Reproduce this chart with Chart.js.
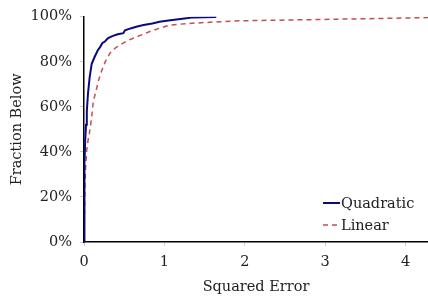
<!DOCTYPE html>
<html>
<head>
<meta charset="utf-8">
<script src="https://cdn.jsdelivr.net/npm/chart.js@4.4.0/dist/chart.umd.min.js"></script>
<style>
  html, body { margin: 0; padding: 0; background: #fff; }
  #wrap { width: 428px; height: 299px; }
</style>
</head>
<body>
<div id="wrap"><canvas id="chart" width="428" height="299"></canvas></div>
<script>
// (squared error vs. percent below)
const quadX = [0, 0.003, 0.008, 0.015, 0.025, 0.035, 0.05, 0.07, 0.095, 0.13, 0.17, 0.2, 0.227, 0.26, 0.3, 0.36, 0.42, 0.49, 0.51, 0.58, 0.65, 0.74, 0.85, 0.94, 1.05, 1.15, 1.25, 1.36, 1.5, 1.646];
const quadY = [0, 20, 35, 45, 52, 58, 66, 73, 79, 82, 85, 86.5, 88.2, 89, 90.5, 91.5, 92.2, 92.7, 94, 94.8, 95.5, 96.3, 97, 97.8, 98.3, 98.8, 99.2, 99.7, 99.8, 99.9];
const linX = [0, 0.005, 0.012, 0.02, 0.033, 0.05, 0.066, 0.095, 0.116, 0.15, 0.178, 0.22, 0.27, 0.323, 0.38, 0.447, 0.55, 0.65, 0.82, 0.95, 1.067, 1.3, 1.6, 1.94, 2.5, 3.0, 3.5, 4.0, 4.28];
const linY = [0, 12, 26, 33, 40.5, 45, 48, 55.2, 62.6, 67, 71.4, 76, 80.5, 83.8, 85.8, 87.5, 89.5, 91, 93.4, 95, 96.3, 97, 97.6, 98.2, 98.5, 98.8, 99.1, 99.4, 99.6];
const xTicks = [0, 1, 2, 3, 4];
const yTicks = [0, 20, 40, 60, 80, 100];

const FONT = "'DejaVu Serif', serif";
const SIZE = 14.5;
const pts = (xs, ys) => xs.map((x, i) => ({x: x, y: ys[i]}));

// legend drawn inside the plot, bottom right
const innerLegend = {
  id: 'innerLegend',
  afterDraw(chart) {
    const ctx = chart.ctx;
    const x0 = 323, rows = [203, 225];
    ctx.save();
    ctx.font = SIZE + 'px ' + FONT;
    ctx.textBaseline = 'middle';
    chart.data.datasets.forEach((ds, i) => {
      const y = rows[i];
      ctx.strokeStyle = ds.borderColor;
      ctx.lineWidth = ds.borderWidth;
      ctx.setLineDash(ds.borderDash || []);
      ctx.beginPath();
      ctx.moveTo(x0, y);
      ctx.lineTo(x0 + 17, y);
      ctx.stroke();
      ctx.setLineDash([]);
      ctx.fillStyle = '#222';
      ctx.fillText(ds.label, x0 + 18, y + 1);
    });
    ctx.restore();
  }
};

new Chart(document.getElementById('chart'), {
  type: 'line',
  data: {
    datasets: [
      {
        label: 'Quadratic',
        data: pts(quadX, quadY),
        borderColor: '#0a0a80',
        borderWidth: 2,
        pointRadius: 0,
        tension: 0
      },
      {
        label: 'Linear',
        data: pts(linX, linY),
        borderColor: '#c0504d',
        borderWidth: 1.5,
        borderDash: [5, 4],
        pointRadius: 0,
        tension: 0
      }
    ]
  },
  options: {
    responsive: false,
    animation: false,
    layout: { padding: { top: 15, right: 0, left: 0, bottom: 0 } },
    plugins: { legend: { display: false }, tooltip: { enabled: false } },
    scales: {
      x: {
        type: 'linear',
        min: 0,
        max: 4.28,
        afterBuildTicks: s => { s.ticks = xTicks.map(v => ({value: v})); },
        afterFit: s => { s.height = 57; },
        grid: { drawOnChartArea: false, tickLength: 4, color: '#ccc' },
        border: { color: '#000', width: 1.5 },
        ticks: { color: '#222', font: { family: FONT, size: SIZE }, padding: 8, maxRotation: 0 },
        title: { display: true, text: 'Squared Error', color: '#222', font: { family: FONT, size: SIZE }, padding: { top: 0, bottom: 3 } }
      },
      y: {
        min: 0,
        max: 100,
        afterBuildTicks: s => { s.ticks = yTicks.map(v => ({value: v})); },
        afterFit: s => { s.width = 84; },
        grid: { drawOnChartArea: false, tickLength: 4, color: '#ccc' },
        border: { color: '#000', width: 1.5 },
        ticks: { color: '#222', font: { family: FONT, size: SIZE }, padding: 8, callback: v => v + '%' },
        title: { display: true, text: 'Fraction Below', color: '#222', font: { family: FONT, size: SIZE }, padding: { top: 9, bottom: 0 } }
      }
    }
  },
  plugins: [innerLegend]
});
</script>
</body>
</html>
